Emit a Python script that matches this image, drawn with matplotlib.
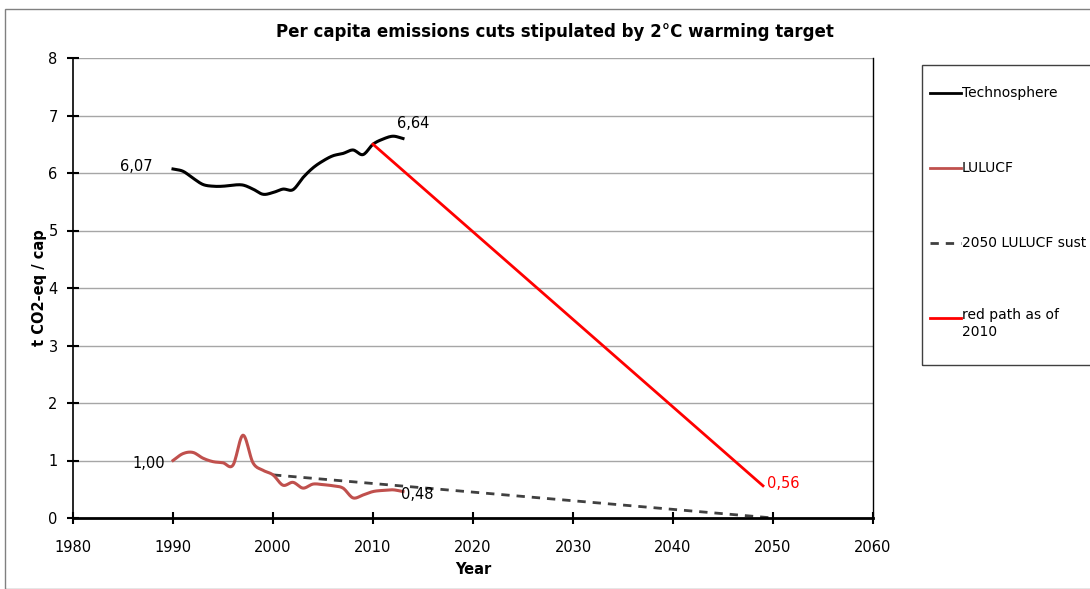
import numpy as np
import matplotlib
matplotlib.use("Agg")
import matplotlib.pyplot as plt
from matplotlib.patches import Rectangle
from matplotlib.lines import Line2D

plt.rcParams['font.family'] = ['DejaVu Sans']

years = list(range(1990, 2014))
techno = [6.07, 6.03, 5.91, 5.80, 5.77, 5.77, 5.79, 5.79, 5.72, 5.63, 5.66, 5.72,
          5.71, 5.92, 6.09, 6.21, 6.30, 6.34, 6.40, 6.32, 6.50, 6.59, 6.64, 6.60]
lulucf = [1.00, 1.12, 1.14, 1.04, 0.98, 0.96, 0.92, 1.44, 0.96, 0.83, 0.75, 0.57,
          0.62, 0.52, 0.59, 0.58, 0.56, 0.52, 0.35, 0.40, 0.46, 0.48, 0.49, 0.46]
sust_years = [2000, 2050]
sust_vals = [0.75, 0.0]
red_years = [2010, 2049]
red_vals = [6.50, 0.56]
legend_labels = ["Technosphere", "LULUCF", "2050 LULUCF sust", "red path as of\n2010"]


def smooth(x, y, n=12):
    x = np.asarray(x, float); y = np.asarray(y, float)
    px = np.concatenate([[2 * x[0] - x[1]], x, [2 * x[-1] - x[-2]]])
    py = np.concatenate([[2 * y[0] - y[1]], y, [2 * y[-1] - y[-2]]])
    xs, ys = [], []
    for i in range(1, len(px) - 2):
        t = np.linspace(0, 1, n, endpoint=False)
        for arr, out in ((px, xs), (py, ys)):
            p0, p1, p2, p3 = arr[i - 1], arr[i], arr[i + 1], arr[i + 2]
            out.extend(0.5 * ((2 * p1) + (-p0 + p2) * t + (2 * p0 - 5 * p1 + 4 * p2 - p3) * t ** 2
                              + (-p0 + 3 * p1 - 3 * p2 + p3) * t ** 3))
    xs.append(x[-1]); ys.append(y[-1])
    return xs, ys


fig = plt.figure(figsize=(10.9, 5.89), dpi=100)
W, H = 1090, 589
ax = fig.add_axes([73 / W, 1 - 518 / H, 800 / W, 460 / H])

ax.set_xlim(1980, 2060)
ax.set_ylim(0, 8)
ax.set_xticks(range(1980, 2061, 10))
ax.set_yticks(range(0, 9))
for v in range(1, 9):
    ax.axhline(v, color='#a6a6a6', lw=1, zorder=0)

ax.spines['top'].set_visible(False)
ax.spines['right'].set_linewidth(1)
ax.spines['left'].set_linewidth(1.2)
ax.spines['bottom'].set_linewidth(2)
ax.tick_params(axis='both', direction='inout', length=8, width=1.5, labelsize=10.5, colors='black')
ax.tick_params(axis='x', pad=12)
ax.tick_params(axis='y', pad=7)

sx, sy = smooth(years, techno)
ax.plot(sx, sy, color='black', lw=2.2, zorder=3)
lx, ly = smooth(years, lulucf)
ax.plot(lx, ly, color='#c0504d', lw=2.2, zorder=3)
ax.plot(sust_years, sust_vals, color='#404040', lw=2, ls=(0, (3, 2.5)), zorder=2)
ax.plot(red_years, red_vals, color='#ff0000', lw=2, zorder=4)

fs = 10.5
ax.text(1988.0, techno[0] + 0.05, "6,07", ha='right', va='center', fontsize=fs)
ax.text(2012.4, techno[-2] + 0.22, "6,64", ha='left', va='center', fontsize=fs)
ax.text(1989.2, lulucf[0] - 0.06, "1,00", ha='right', va='center', fontsize=fs)
ax.text(2012.8, lulucf[-1] - 0.05, "0,48", ha='left', va='center', fontsize=fs)
ax.text(2049.4, red_vals[1] + 0.04, "0,56", ha='left', va='center', fontsize=fs, color='#ff0000')

ax.set_xlabel("Year", fontsize=10.5, fontweight='bold', labelpad=5)
ax.set_ylabel("t CO2-eq / cap", fontsize=10.5, fontweight='bold', labelpad=1)
fig.text(555 / W, 1 - 32 / H, "Per capita emissions cuts stipulated by 2°C warming target",
         ha='center', va='center', fontsize=12, fontweight='bold')

# outer chart border
fig.patches.append(Rectangle((5 / W, 0.0), 1.1, 1 - 9 / H, transform=fig.transFigure,
                             fill=False, edgecolor='#808080', lw=1))

# legend box
fig.patches.append(Rectangle((922 / W, 1 - 365 / H), 0.2, 300 / H, transform=fig.transFigure,
                             fill=False, edgecolor='#404040', lw=1))
leg_y = [93, 168, 243, 318]
leg_styles = [dict(color='black', lw=2), dict(color='#c0504d', lw=2),
              dict(color='#404040', lw=2, ls=(0, (3, 2.5))), dict(color='#ff0000', lw=2)]
lfs = 10
for yy, st, lab in zip(leg_y, leg_styles, legend_labels):
    fig.lines.append(Line2D([930 / W, 961 / W], [1 - yy / H] * 2, transform=fig.transFigure, **st))
    if '\n' in lab:
        fig.text(962 / W, 1 - (yy - 10) / H, lab, ha='left', va='top', fontsize=lfs, linespacing=1.3)
    else:
        fig.text(962 / W, 1 - yy / H, lab, ha='left', va='center', fontsize=lfs)

fig.savefig("out.png", dpi=100)
